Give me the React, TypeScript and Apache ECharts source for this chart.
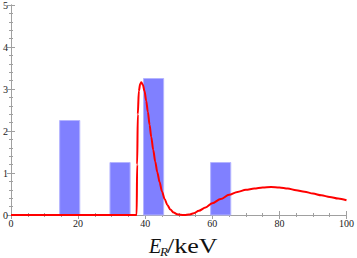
import React, { useEffect, useRef } from "react";
import * as echarts from "echarts";

const energies = [0, 10, 20, 30, 37.45, 37.6, 37.8, 38.1, 38.5, 38.85, 39.3, 39.8, 40.3, 40.8, 41.3, 41.8, 42.4, 43.0, 43.6, 44.3, 45.0, 45.8, 46.6, 47.5, 48.5, 49.5, 50.5, 51.8, 53, 54.5, 56, 58, 60, 62.5, 65, 67.5, 70, 72.5, 75, 77.5, 80, 82.5, 85, 87.5, 90, 92.5, 95, 97.5, 100];
const rates = [0, 0, 0, 0, 0, 1.2, 2.4, 2.95, 3.12, 3.16, 3.1, 2.95, 2.72, 2.45, 2.15, 1.86, 1.55, 1.27, 1.02, 0.78, 0.56, 0.38, 0.24, 0.13, 0.06, 0.02, 0.005, 0, 0.01, 0.04, 0.1, 0.18, 0.28, 0.38, 0.48, 0.55, 0.6, 0.63, 0.655, 0.665, 0.655, 0.63, 0.59, 0.555, 0.51, 0.47, 0.43, 0.39, 0.35];

const binStart = [14.5, 29.5, 39.5, 59.5];
const binEnd = [20.5, 35.5, 45.5, 65.5];
const binCounts = [2.25, 1.25, 3.25, 1.25];

const FRAME = "#a0a0a0";
const SERIF = "'Liberation Serif', 'DejaVu Serif', serif";

export default function App() {
  const ref = useRef<HTMLDivElement>(null);
  useEffect(() => {
    if (!ref.current) return;
    const chart = echarts.init(ref.current, undefined, { renderer: "svg" });
    const axisCommon = {
      type: "value" as const,
      axisLine: { show: true, lineStyle: { color: FRAME, width: 1 } },
      axisTick: { show: true, inside: true, length: 4, lineStyle: { color: FRAME } },
      minorTick: { show: true, length: 2, lineStyle: { color: FRAME } },
      splitLine: { show: false },
    };
    chart.setOption({
      animation: false,
      grid: { left: 9, right: 8, top: 5, bottom: 43, containLabel: false },
      xAxis: [
        {
          ...axisCommon,
          position: "bottom",
          min: 0,
          max: 100,
          interval: 20,
          minorTick: { ...axisCommon.minorTick, splitNumber: 4 },
          axisLabel: { show: true, color: "#222", fontFamily: SERIF, fontSize: 10, margin: 3 },
        },
        {
          ...axisCommon,
          position: "top",
          min: 0,
          max: 100,
          interval: 20,
          minorTick: { ...axisCommon.minorTick, splitNumber: 4 },
          axisLabel: { show: false },
        },
      ],
      yAxis: [
        {
          ...axisCommon,
          position: "left",
          min: 0,
          max: 5,
          interval: 1,
          minorTick: { ...axisCommon.minorTick, splitNumber: 5 },
          axisLabel: { show: true, color: "#222", fontFamily: SERIF, fontSize: 10, margin: 3 },
        },
        {
          ...axisCommon,
          position: "right",
          min: 0,
          max: 5,
          interval: 1,
          minorTick: { ...axisCommon.minorTick, splitNumber: 5 },
          axisLabel: { show: false },
        },
      ],
      series: [
        {
          type: "custom",
          xAxisIndex: 0,
          yAxisIndex: 0,
          z: 2,
          data: binStart.map((s, i) => [s, binEnd[i], binCounts[i]]),
          encode: { x: [0, 1], y: 2 },
          renderItem: (params: any, api: any) => {
            const p0 = api.coord([api.value(0), api.value(2)]);
            const p1 = api.coord([api.value(1), 0]);
            return {
              type: "rect",
              shape: { x: p0[0], y: p0[1], width: p1[0] - p0[0], height: p1[1] - p0[1] },
              style: { fill: "#8080ff", stroke: "#b4b4ff", lineWidth: 1 },
            };
          },
        },
        {
          type: "line",
          xAxisIndex: 0,
          yAxisIndex: 0,
          z: 5,
          data: energies.map((e, i) => [e, rates[i]]),
          showSymbol: false,
          smooth: 0.3,
          smoothMonotone: "x",
          lineStyle: { color: "#ff0000", width: 2 },
          clip: false,
        },
      ],
      graphic: [
        {
          type: "text",
          left: 149,
          top: 236,
          style: { text: "E", fontFamily: SERIF, fontStyle: "italic", fontSize: 20, fill: "#111" },
        },
        {
          type: "text",
          left: 160,
          top: 245,
          style: { text: "R", fontFamily: SERIF, fontStyle: "italic", fontSize: 13, fill: "#111" },
        },
        {
          type: "text",
          x: 167,
          y: 236,
          scaleX: 1.3,
          style: { text: "/keV", fontFamily: SERIF, fontSize: 20, fill: "#111" },
        },
      ],
    });
    return () => chart.dispose();
  }, []);
  return <div ref={ref} style={{ width: 357, height: 258, position: "absolute", left: 0, top: 0 }} />;
}
